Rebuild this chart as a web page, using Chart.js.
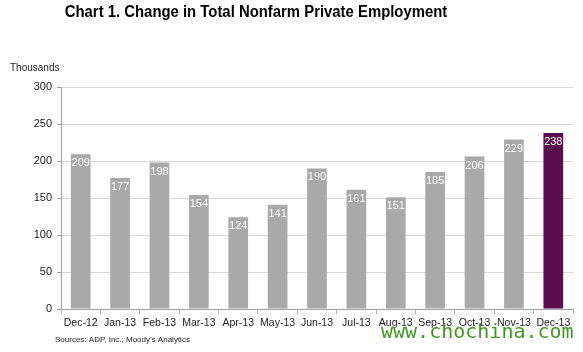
<!DOCTYPE html>
<html>
<head>
<meta charset="utf-8">
<script src="https://cdn.jsdelivr.net/npm/chart.js@4"></script>
<style>
  html, body { margin: 0; padding: 0; background: #fff; }
  #wrap { position: relative; width: 583px; height: 352px; }
</style>
</head>
<body>
<div id="wrap"><canvas id="employmentChart" width="583" height="352"></canvas></div>
<script>
// data
const months = ['Dec-12', 'Jan-13', 'Feb-13', 'Mar-13', 'Apr-13', 'May-13', 'Jun-13',
                'Jul-13', 'Aug-13', 'Sep-13', 'Oct-13', 'Nov-13', 'Dec-13'];
const jobChanges = [209, 177, 198, 154, 124, 141, 190, 161, 151, 185, 206, 229, 238];
const yTicks = [0, 50, 100, 150, 200, 250, 300];

const titleText = 'Chart 1. Change in Total Nonfarm Private Employment';
const unitText = 'Thousands';
const sourceText = 'Sources: ADP, Inc.; Moody\u2019s Analytics';
const watermarkText = 'www.chochina.com';

// last month is highlighted
const barColors = jobChanges.map((v, i) => i === jobChanges.length - 1 ? '#5b0b4f' : '#a9a9a9');

// white value labels inside the top of each bar
const valueLabels = {
    id: 'valueLabels',
    afterDatasetsDraw: function(chart) {
        const ctx = chart.ctx;
        const meta = chart.getDatasetMeta(0);
        ctx.save();
        ctx.font = '11px "Liberation Sans", Arial, sans-serif';
        ctx.fillStyle = '#ffffff';
        ctx.textAlign = 'center';
        ctx.textBaseline = 'middle';
        meta.data.forEach((bar, i) => {
            ctx.fillText(String(jobChanges[i]), bar.x, bar.y + 9);
        });
        ctx.restore();
    }
};

// title, unit note, source line and watermark
const extraText = {
    id: 'extraText',
    afterDraw: function(chart) {
        const ctx = chart.ctx;
        ctx.save();
        ctx.fillStyle = '#000';
        ctx.textBaseline = 'alphabetic';
        ctx.font = 'bold 16px "Liberation Sans", Arial, sans-serif';
        ctx.textAlign = 'center';
        // the original title is set a little narrower than plain Arial bold
        ctx.save();
        ctx.translate(256, 17);
        ctx.scale(0.93, 1);
        ctx.fillText(titleText, 0, 0);
        ctx.restore();

        ctx.textAlign = 'left';
        ctx.font = '10px "Liberation Sans", Arial, sans-serif';
        ctx.fillStyle = '#222';
        ctx.fillText(unitText, 10, 71);

        ctx.font = '8px "Liberation Sans", Arial, sans-serif';
        ctx.fillText(sourceText, 55, 342);

        ctx.font = '20px "DejaVu Sans Mono", monospace';
        ctx.fillStyle = '#3f9a22';
        ctx.fillText(watermarkText, 381, 338);
        ctx.restore();
    }
};

const ctx = document.getElementById('employmentChart').getContext('2d');
new Chart(ctx, {
    type: 'bar',
    data: {
        labels: months,
        datasets: [{
            data: jobChanges,
            backgroundColor: barColors,
            borderWidth: 0,
            categoryPercentage: 1,
            barPercentage: 0.5
        }]
    },
    options: {
        responsive: false,
        animation: false,
        layout: { padding: { left: 0, right: 10, top: 87, bottom: 0 } },
        scales: {
            x: {
                grid: {
                    offset: true,
                    drawOnChartArea: false,
                    tickLength: 5,
                    color: '#b0b0b0'
                },
                border: { color: '#a0a0a0' },
                ticks: {
                    color: '#222',
                    font: { family: '"Liberation Sans", Arial, sans-serif', size: 10.5 },
                    maxRotation: 0,
                    autoSkip: false,
                    padding: 3
                },
                afterFit: function(scale) { scale.height = 43; }
            },
            y: {
                min: 0,
                max: 300,
                afterBuildTicks: function(scale) {
                    scale.ticks = yTicks.map(v => ({ value: v }));
                },
                grid: {
                    color: '#d9d9d9',
                    tickLength: 4,
                    tickColor: '#a0a0a0'
                },
                border: { color: '#a0a0a0' },
                ticks: {
                    color: '#222',
                    font: { family: '"Liberation Sans", Arial, sans-serif', size: 11 },
                    padding: 5
                },
                afterFit: function(scale) { scale.width = 61; }
            }
        },
        plugins: {
            legend: { display: false },
            tooltip: { enabled: false }
        }
    },
    plugins: [valueLabels, extraText]
});
</script>
</body>
</html>
